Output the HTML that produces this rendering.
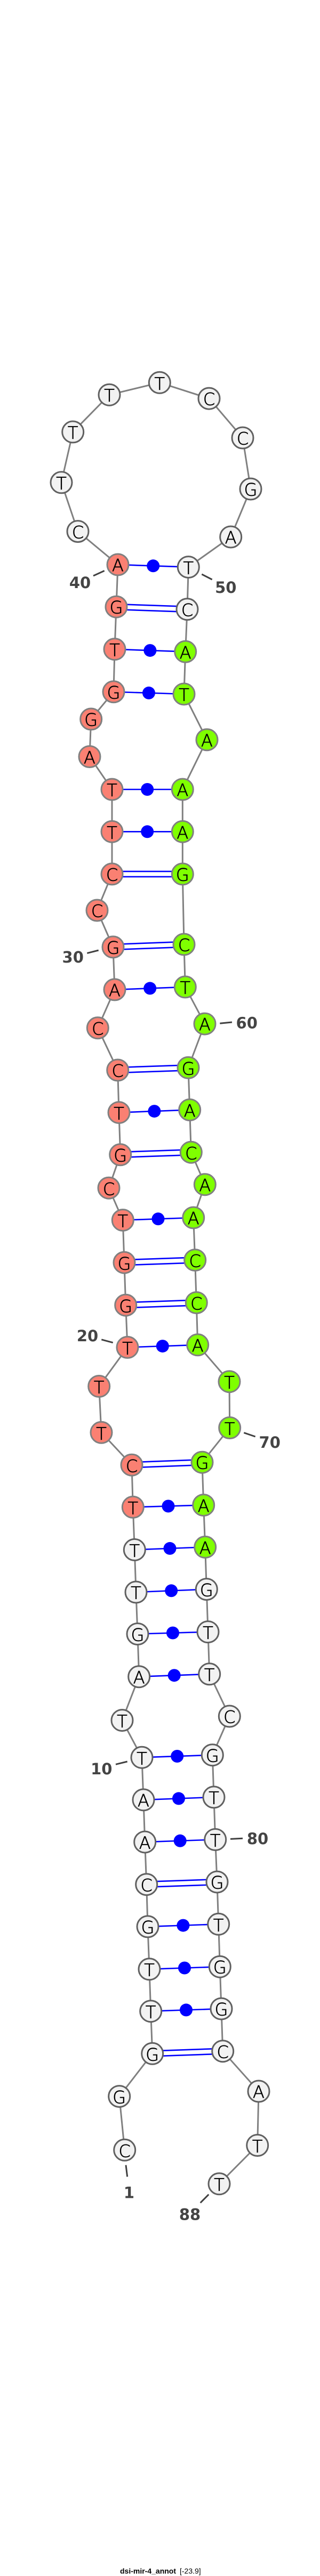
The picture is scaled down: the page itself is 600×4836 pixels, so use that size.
<!DOCTYPE html>
<html><head><meta charset="utf-8"><title>dsi-mir-4_annot</title>
<style>
html,body{margin:0;padding:0;background:#fff;width:600px;height:4836px;overflow:hidden}
svg{display:block}
.g{fill:#f2f2f2;stroke:#606060;stroke-width:3}
.r{fill:#fa8072;stroke:#808080;stroke-width:3}
.v{fill:#7fff00;stroke:#808080;stroke-width:3}
.b line{stroke:#0000ff;stroke-width:2.6}
.d{fill:#0000ff}
.n text{font-family:"DejaVu Sans ExtraLight","DejaVu Sans",sans-serif;font-weight:200;font-size:32px;text-anchor:middle;fill:#000;stroke:#000;stroke-width:.7px}
.l text{font:bold 29px "DejaVu Sans",sans-serif;text-anchor:middle;fill:#444}
.l line{stroke:#404040;stroke-width:3}
</style></head><body>
<svg width="600" height="4836" viewBox="0 0 600 4836" xmlns="http://www.w3.org/2000/svg">
<polyline fill="none" stroke="#808080" stroke-width="3" points="233.7,4036.3 223.7,3935.6 285.7,3855.3 282.7,3775.7 280,3696.8 277,3616.9 274.7,3537.7 271.7,3458.1 269,3378.9 266,3299.3 229,3229.6 260.7,3147.7 258,3067.5 255,2989 252.3,2909.4 249.3,2829.4 247,2750.2 190,2689.3 185.7,2602.5 239,2529.4 235.7,2450.2 233,2370.2 230.3,2290.6 204,2230.2 225.7,2167.8 223,2088.6 220.7,2009 183.3,1929.8 215,1857.9 212,1777.9 182,1709 210,1640.9 210,1561.3 210,1482 168,1420.5 170.7,1350 213,1298.8 215,1218.8 218,1139.2 221,1060 146,997.6 115,905.8 136.7,810.9 205,741.2 299.3,718.3 392,748.1 455,822 470,918 432.7,1008 353.3,1064.6 351,1143.8 347.7,1223.4 345,1303 388,1388.7 342.3,1482 342.3,1561.3 342.3,1640.9 345,1772.9 347.3,1852.9 384,1922.1 353,2004.4 355.7,2083.6 358.3,2163.2 384.3,2223.7 362.7,2286 365.7,2365.6 368.3,2445.6 370.7,2524.8 430,2593.7 430.7,2680.5 379,2745.2 381.7,2825.6 384.7,2904.4 387.3,2983.6 390,3063.6 392.7,3142.8 430.3,3222 398.3,3294.7 401,3373.9 403.7,3453.5 407,3533.1 409.7,3612.3 412.3,3692.2 415,3771.1 417.7,3850.7 485,3926 482.7,4027.5 411,4099.8"/>
<g class="b">
<line x1="285.7" y1="3850.3" x2="417.7" y2="3845.7"/><line x1="285.7" y1="3860.3" x2="417.7" y2="3855.7"/>
<line x1="282.7" y1="3775.7" x2="415" y2="3771.1"/>
<line x1="280" y1="3696.8" x2="412.3" y2="3692.2"/>
<line x1="277" y1="3616.9" x2="409.7" y2="3612.3"/>
<line x1="274.7" y1="3532.7" x2="407" y2="3528.1"/><line x1="274.7" y1="3542.7" x2="407" y2="3538.1"/>
<line x1="271.7" y1="3458.1" x2="403.7" y2="3453.5"/>
<line x1="269" y1="3378.9" x2="401" y2="3373.9"/>
<line x1="266" y1="3299.3" x2="398.3" y2="3294.7"/>
<line x1="260.7" y1="3147.7" x2="392.7" y2="3142.8"/>
<line x1="258" y1="3067.5" x2="390" y2="3063.6"/>
<line x1="255" y1="2989" x2="387.3" y2="2983.6"/>
<line x1="252.3" y1="2909.4" x2="384.7" y2="2904.4"/>
<line x1="249.3" y1="2829.4" x2="381.7" y2="2825.6"/>
<line x1="247" y1="2745.2" x2="379" y2="2740.2"/><line x1="247" y1="2755.2" x2="379" y2="2750.2"/>
<line x1="239" y1="2529.4" x2="370.7" y2="2524.8"/>
<line x1="235.7" y1="2445.2" x2="368.3" y2="2440.6"/><line x1="235.7" y1="2455.2" x2="368.3" y2="2450.6"/>
<line x1="233" y1="2365.2" x2="365.7" y2="2360.6"/><line x1="233" y1="2375.2" x2="365.7" y2="2370.6"/>
<line x1="230.3" y1="2290.6" x2="362.7" y2="2286"/>
<line x1="225.7" y1="2162.8" x2="358.3" y2="2158.2"/><line x1="225.7" y1="2172.8" x2="358.3" y2="2168.2"/>
<line x1="223" y1="2088.6" x2="355.7" y2="2083.6"/>
<line x1="220.7" y1="2004" x2="353" y2="1999.4"/><line x1="220.7" y1="2014" x2="353" y2="2009.4"/>
<line x1="215" y1="1857.9" x2="347.3" y2="1852.9"/>
<line x1="212" y1="1772.9" x2="345" y2="1767.9"/><line x1="212" y1="1782.9" x2="345" y2="1777.9"/>
<line x1="210" y1="1635.9" x2="342.3" y2="1635.9"/><line x1="210" y1="1645.9" x2="342.3" y2="1645.9"/>
<line x1="210" y1="1561.3" x2="342.3" y2="1561.3"/>
<line x1="210" y1="1482" x2="342.3" y2="1482"/>
<line x1="213" y1="1298.8" x2="345" y2="1303"/>
<line x1="215" y1="1218.8" x2="347.7" y2="1223.4"/>
<line x1="218" y1="1134.2" x2="351" y2="1138.8"/><line x1="218" y1="1144.2" x2="351" y2="1148.8"/>
<line x1="221" y1="1060" x2="353.3" y2="1064.6"/>
</g>
<g class="d">
<circle cx="349" cy="3773.4" r="12"/><circle cx="346" cy="3694.5" r="12"/><circle cx="343.4" cy="3614.6" r="12"/>
<circle cx="337.7" cy="3455.8" r="12"/><circle cx="335" cy="3376.4" r="12"/><circle cx="332.2" cy="3297" r="12"/>
<circle cx="326.7" cy="3145.2" r="12"/><circle cx="324" cy="3065.5" r="12"/><circle cx="321.2" cy="2986.3" r="12"/><circle cx="318.5" cy="2906.9" r="12"/><circle cx="315.5" cy="2827.5" r="12"/>
<circle cx="304.8" cy="2527.1" r="12"/><circle cx="296.5" cy="2288.3" r="12"/><circle cx="289.4" cy="2086.1" r="12"/><circle cx="281.2" cy="1855.4" r="12"/>
<circle cx="276.2" cy="1561.3" r="12"/><circle cx="276.2" cy="1482" r="12"/><circle cx="279" cy="1300.9" r="12"/><circle cx="281.4" cy="1221.1" r="12"/><circle cx="287.2" cy="1062.3" r="12"/>
</g>
<g class="g">
<circle cx="233.7" cy="4036.3" r="20"/><circle cx="223.7" cy="3935.6" r="20"/><circle cx="285.7" cy="3855.3" r="20"/><circle cx="282.7" cy="3775.7" r="20"/><circle cx="280" cy="3696.8" r="20"/><circle cx="277" cy="3616.9" r="20"/><circle cx="274.7" cy="3537.7" r="20"/><circle cx="271.7" cy="3458.1" r="20"/><circle cx="269" cy="3378.9" r="20"/><circle cx="266" cy="3299.3" r="20"/><circle cx="229" cy="3229.6" r="20"/><circle cx="260.7" cy="3147.7" r="20"/><circle cx="258" cy="3067.5" r="20"/><circle cx="255" cy="2989" r="20"/><circle cx="252.3" cy="2909.4" r="20"/>
<circle cx="146" cy="997.6" r="20"/><circle cx="115" cy="905.8" r="20"/><circle cx="136.7" cy="810.9" r="20"/><circle cx="205" cy="741.2" r="20"/><circle cx="299.3" cy="718.3" r="20"/><circle cx="392" cy="748.1" r="20"/><circle cx="455" cy="822" r="20"/><circle cx="470" cy="918" r="20"/><circle cx="432.7" cy="1008" r="20"/><circle cx="353.3" cy="1064.6" r="20"/><circle cx="351" cy="1143.8" r="20"/>
<circle cx="387.3" cy="2983.6" r="20"/><circle cx="390" cy="3063.6" r="20"/><circle cx="392.7" cy="3142.8" r="20"/><circle cx="430.3" cy="3222" r="20"/><circle cx="398.3" cy="3294.7" r="20"/><circle cx="401" cy="3373.9" r="20"/><circle cx="403.7" cy="3453.5" r="20"/><circle cx="407" cy="3533.1" r="20"/><circle cx="409.7" cy="3612.3" r="20"/><circle cx="412.3" cy="3692.2" r="20"/><circle cx="415" cy="3771.1" r="20"/><circle cx="417.7" cy="3850.7" r="20"/><circle cx="485" cy="3926" r="20"/><circle cx="482.7" cy="4027.5" r="20"/><circle cx="411" cy="4099.8" r="20"/>
</g>
<g class="r">
<circle cx="249.3" cy="2829.4" r="20"/><circle cx="247" cy="2750.2" r="20"/><circle cx="190" cy="2689.3" r="20"/><circle cx="185.7" cy="2602.5" r="20"/><circle cx="239" cy="2529.4" r="20"/><circle cx="235.7" cy="2450.2" r="20"/><circle cx="233" cy="2370.2" r="20"/><circle cx="230.3" cy="2290.6" r="20"/><circle cx="204" cy="2230.2" r="20"/><circle cx="225.7" cy="2167.8" r="20"/><circle cx="223" cy="2088.6" r="20"/><circle cx="220.7" cy="2009" r="20"/><circle cx="183.3" cy="1929.8" r="20"/><circle cx="215" cy="1857.9" r="20"/><circle cx="212" cy="1777.9" r="20"/><circle cx="182" cy="1709" r="20"/><circle cx="210" cy="1640.9" r="20"/><circle cx="210" cy="1561.3" r="20"/><circle cx="210" cy="1482" r="20"/><circle cx="168" cy="1420.5" r="20"/><circle cx="170.7" cy="1350" r="20"/><circle cx="213" cy="1298.8" r="20"/><circle cx="215" cy="1218.8" r="20"/><circle cx="218" cy="1139.2" r="20"/><circle cx="221" cy="1060" r="20"/>
</g>
<g class="v">
<circle cx="347.7" cy="1223.4" r="20"/><circle cx="345" cy="1303" r="20"/><circle cx="388" cy="1388.7" r="20"/><circle cx="342.3" cy="1482" r="20"/><circle cx="342.3" cy="1561.3" r="20"/><circle cx="342.3" cy="1640.9" r="20"/><circle cx="345" cy="1772.9" r="20"/><circle cx="347.3" cy="1852.9" r="20"/><circle cx="384" cy="1922.1" r="20"/><circle cx="353" cy="2004.4" r="20"/><circle cx="355.7" cy="2083.6" r="20"/><circle cx="358.3" cy="2163.2" r="20"/><circle cx="384.3" cy="2223.7" r="20"/><circle cx="362.7" cy="2286" r="20"/><circle cx="365.7" cy="2365.6" r="20"/><circle cx="368.3" cy="2445.6" r="20"/><circle cx="370.7" cy="2524.8" r="20"/><circle cx="430" cy="2593.7" r="20"/><circle cx="430.7" cy="2680.5" r="20"/><circle cx="379" cy="2745.2" r="20"/><circle cx="381.7" cy="2825.6" r="20"/><circle cx="384.7" cy="2904.4" r="20"/>
</g>
<g class="n" transform="translate(0,1.5)">
<text x="233.7" y="4048">C</text><text x="223.7" y="3947">G</text><text x="285.7" y="3867">G</text><text x="282.7" y="3787">T</text><text x="280" y="3708">T</text><text x="277" y="3628">G</text><text x="274.7" y="3549">C</text><text x="271.7" y="3469.5">A</text><text x="269" y="3390">A</text><text x="266" y="3311">T</text><text x="229" y="3241">T</text><text x="260.7" y="3159">A</text><text x="258" y="3079">G</text><text x="255" y="3000">T</text><text x="252.3" y="2921">T</text><text x="249.3" y="2841">T</text><text x="247" y="2762">C</text><text x="190" y="2701">T</text><text x="185.7" y="2614">T</text><text x="239" y="2541">T</text><text x="235.7" y="2462">G</text><text x="233" y="2382">G</text><text x="230.3" y="2302">T</text><text x="204" y="2242">C</text><text x="225.7" y="2179">G</text><text x="223" y="2100">T</text><text x="220.7" y="2020">C</text><text x="183.3" y="1941">C</text><text x="215" y="1869">A</text><text x="212" y="1789">G</text><text x="182" y="1720">C</text><text x="210" y="1652">C</text><text x="210" y="1573">T</text><text x="210" y="1493">T</text><text x="168" y="1432">A</text><text x="170.7" y="1361">G</text><text x="213" y="1310">G</text><text x="215" y="1230">T</text><text x="218" y="1150">G</text><text x="221" y="1071">A</text><text x="146" y="1009">C</text><text x="115" y="917">T</text><text x="136.7" y="822">T</text><text x="205" y="752">T</text><text x="299.3" y="730">T</text><text x="392" y="759">C</text><text x="455" y="833">C</text><text x="470" y="929">G</text><text x="432.7" y="1019">A</text><text x="353.3" y="1076">T</text><text x="351" y="1155">C</text><text x="347.7" y="1235">A</text><text x="345" y="1314">T</text><text x="388" y="1400">A</text><text x="342.3" y="1493">A</text><text x="342.3" y="1573">A</text><text x="342.3" y="1652">G</text><text x="345" y="1784">C</text><text x="347.3" y="1864">T</text><text x="384" y="1933">A</text><text x="353" y="2016">G</text><text x="355.7" y="2095">A</text><text x="358.3" y="2175">C</text><text x="384.3" y="2235">A</text><text x="362.7" y="2297">A</text><text x="365.7" y="2377">C</text><text x="368.3" y="2457">C</text><text x="370.7" y="2536">A</text><text x="430" y="2605">T</text><text x="430.7" y="2692">T</text><text x="379" y="2756">G</text><text x="381.7" y="2837">A</text><text x="384.7" y="2916">A</text><text x="387.3" y="2995">G</text><text x="390" y="3075">T</text><text x="392.7" y="3154">T</text><text x="430.3" y="3233">C</text><text x="398.3" y="3306">G</text><text x="401" y="3385">T</text><text x="403.7" y="3465">T</text><text x="407" y="3544">G</text><text x="409.7" y="3624">T</text><text x="412.3" y="3703">G</text><text x="415" y="3782">G</text><text x="417.7" y="3862">C</text><text x="485" y="3937">A</text><text x="482.7" y="4039">T</text><text x="411" y="4111">T</text>
</g>
<g class="l">
<line x1="175" y1="1081" x2="195.7" y2="1071.5"/><text x="150" y="1104">40</text>
<line x1="378.3" y1="1078" x2="397.7" y2="1088"/><text x="423.3" y="1113">50</text>
<line x1="163.3" y1="1789.4" x2="184.7" y2="1784"/><text x="136.7" y="1807">30</text>
<line x1="412.3" y1="1921.3" x2="435" y2="1919"/><text x="462.7" y="1930.5">60</text>
<line x1="190.3" y1="2514.8" x2="211.7" y2="2520.6"/><text x="164" y="2518">20</text>
<line x1="457.3" y1="2689.7" x2="478.7" y2="2697"/><text x="505.7" y="2718">70</text>
<line x1="217" y1="3312.3" x2="238.7" y2="3307"/><text x="190.3" y="3331">10</text>
<line x1="432" y1="3452.4" x2="455" y2="3451.2"/><text x="483" y="3462">80</text>
<line x1="236" y1="4064.6" x2="238.7" y2="4086.4"/><text x="242" y="4126.5">1</text>
<line x1="391.3" y1="4119.7" x2="375.7" y2="4135.4"/><text x="356" y="4167.5">88</text>
</g>
<text y="4831.5" font-family="'Liberation Sans',sans-serif" font-size="14" fill="#000"><tspan x="225" font-weight="bold">dsi-mir-4_annot</tspan><tspan x="337">[-23.9]</tspan></text>
</svg>
</body></html>
